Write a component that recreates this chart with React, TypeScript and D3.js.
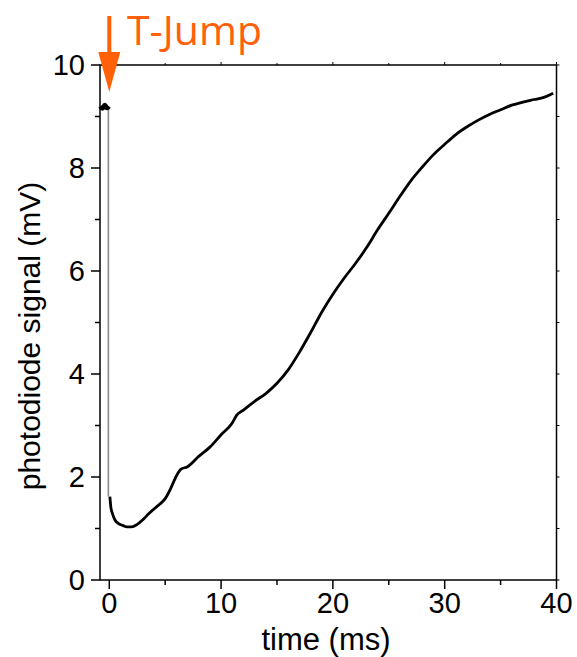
import React from 'react'
import * as d3 from 'd3'

// trace (time in ms, signal in mV)
const preTrigger: [number, number][] = [
  [-0.8, 9.2], [-0.6, 9.16], [-0.4, 9.22], [-0.2, 9.17], [-0.05, 9.2]
]

const trace: [number, number][] = [
  [0.05, 1.62], [0.15, 1.4], [0.3, 1.28], [0.5, 1.17], [0.8, 1.1], [1.2, 1.06],
  [1.6, 1.03], [2.0, 1.03], [2.5, 1.08], [3.0, 1.17], [3.5, 1.28], [4.0, 1.38],
  [4.5, 1.47], [5.0, 1.58], [5.5, 1.78], [6.0, 2.02], [6.4, 2.15], [7.0, 2.2],
  [8.0, 2.4], [9.0, 2.58], [10.0, 2.82], [11.0, 3.05], [11.4, 3.2], [12.0, 3.3],
  [13.0, 3.47], [14.0, 3.62], [15.0, 3.82], [16.0, 4.08], [17.0, 4.42], [18.0, 4.8],
  [19.0, 5.2], [20.0, 5.55], [21.0, 5.86], [22.0, 6.14], [23.0, 6.45], [24.0, 6.8],
  [25.0, 7.12], [26.0, 7.45], [27.0, 7.76], [28.0, 8.02], [29.0, 8.26], [30.0, 8.46],
  [31.0, 8.65], [32.0, 8.8], [33.0, 8.93], [34.0, 9.04], [35.0, 9.13], [36.0, 9.22],
  [37.0, 9.28], [38.0, 9.33], [39.0, 9.38], [39.7, 9.45]
]

const xTicks = [0, 10, 20, 30, 40]
const xMinor = [5, 15, 25, 35]
const yTicks = [0, 2, 4, 6, 8, 10]
const yMinor = [1, 3, 5, 7, 9]

const jumpTime = -0.08
const jumpLabel = 'T-Jump'
const orange = '#ff6008'

const W = 577
const H = 657
const left = 100
const right = 556.5
const top = 65
const bottom = 580

const App: React.FC = () => {
  const x = d3.scaleLinear().domain([-0.83, 40]).range([left, right])
  const y = d3.scaleLinear().domain([0, 10]).range([bottom, top])

  const line = d3.line<[number, number]>()
    .x(d => x(d[0]))
    .y(d => y(d[1]))
    .curve(d3.curveMonotoneX)

  const font = '"Liberation Sans", Arial, sans-serif'
  const jx = x(0)

  return (
    <svg width={W} height={H} style={{ position: 'absolute', left: 0, top: 0, background: '#fff' }}>
      {/* data */}
      <line x1={x(jumpTime)} x2={x(jumpTime)} y1={y(preTrigger[preTrigger.length - 1][1])} y2={y(trace[0][1])}
        stroke="#8a8a8a" strokeWidth={1.6} />
      <path d={line(preTrigger) || ''} fill="none" stroke="#000" strokeWidth={5} />
      <path d={line(trace) || ''} fill="none" stroke="#000" strokeWidth={2.8} strokeLinejoin="round" />

      {/* frame */}
      <rect x={left} y={top} width={right - left} height={bottom - top} fill="none" stroke="#000" strokeWidth={1.5} />

      {/* bottom axis */}
      {xTicks.map(t => (
        <g key={'xt' + t}>
          <line x1={x(t)} x2={x(t)} y1={bottom} y2={bottom + 9} stroke="#000" strokeWidth={1.5} />
          <line x1={x(t)} x2={x(t)} y1={top} y2={top - 3} stroke="#000" strokeWidth={1} />
          <text x={x(t)} y={613} textAnchor="middle" fontFamily={font} fontSize={29}>{t}</text>
        </g>
      ))}
      {xMinor.map(t => (
        <g key={'xm' + t}>
          <line x1={x(t)} x2={x(t)} y1={bottom} y2={bottom + 5} stroke="#000" strokeWidth={1.5} />
          <line x1={x(t)} x2={x(t)} y1={top} y2={top - 2} stroke="#000" strokeWidth={1} />
        </g>
      ))}

      {/* left axis */}
      {yTicks.map(v => (
        <g key={'yt' + v}>
          <line x1={left} x2={left - 9} y1={y(v)} y2={y(v)} stroke="#000" strokeWidth={1.5} />
          <line x1={right} x2={right + 3} y1={y(v)} y2={y(v)} stroke="#000" strokeWidth={1} />
          <text x={85} y={y(v) + 10} textAnchor="end" fontFamily={font} fontSize={29}>{v}</text>
        </g>
      ))}
      {yMinor.map(v => (
        <g key={'ym' + v}>
          <line x1={left} x2={left - 5} y1={y(v)} y2={y(v)} stroke="#000" strokeWidth={1.5} />
          <line x1={right} x2={right + 3} y1={y(v)} y2={y(v)} stroke="#000" strokeWidth={1} />
        </g>
      ))}

      {/* axis titles */}
      <text x={326} y={650} textAnchor="middle" fontFamily={font} fontSize={31}>time (ms)</text>
      <text transform={`translate(40,336) rotate(-90)`} textAnchor="middle" fontFamily={font} fontSize={30}>
        photodiode signal (mV)
      </text>

      {/* T-jump marker */}
      <line x1={jx} x2={jx} y1={16} y2={56} stroke={orange} strokeWidth={4} />
      <path d={`M${jx - 11},52 L${jx + 11},52 L${jx},92 Z`} fill={orange} />
      <text x={127} y={45} fontFamily='"Open Sans", sans-serif' fontSize={41} fill={orange}>{jumpLabel}</text>
    </svg>
  )
}

export default App
